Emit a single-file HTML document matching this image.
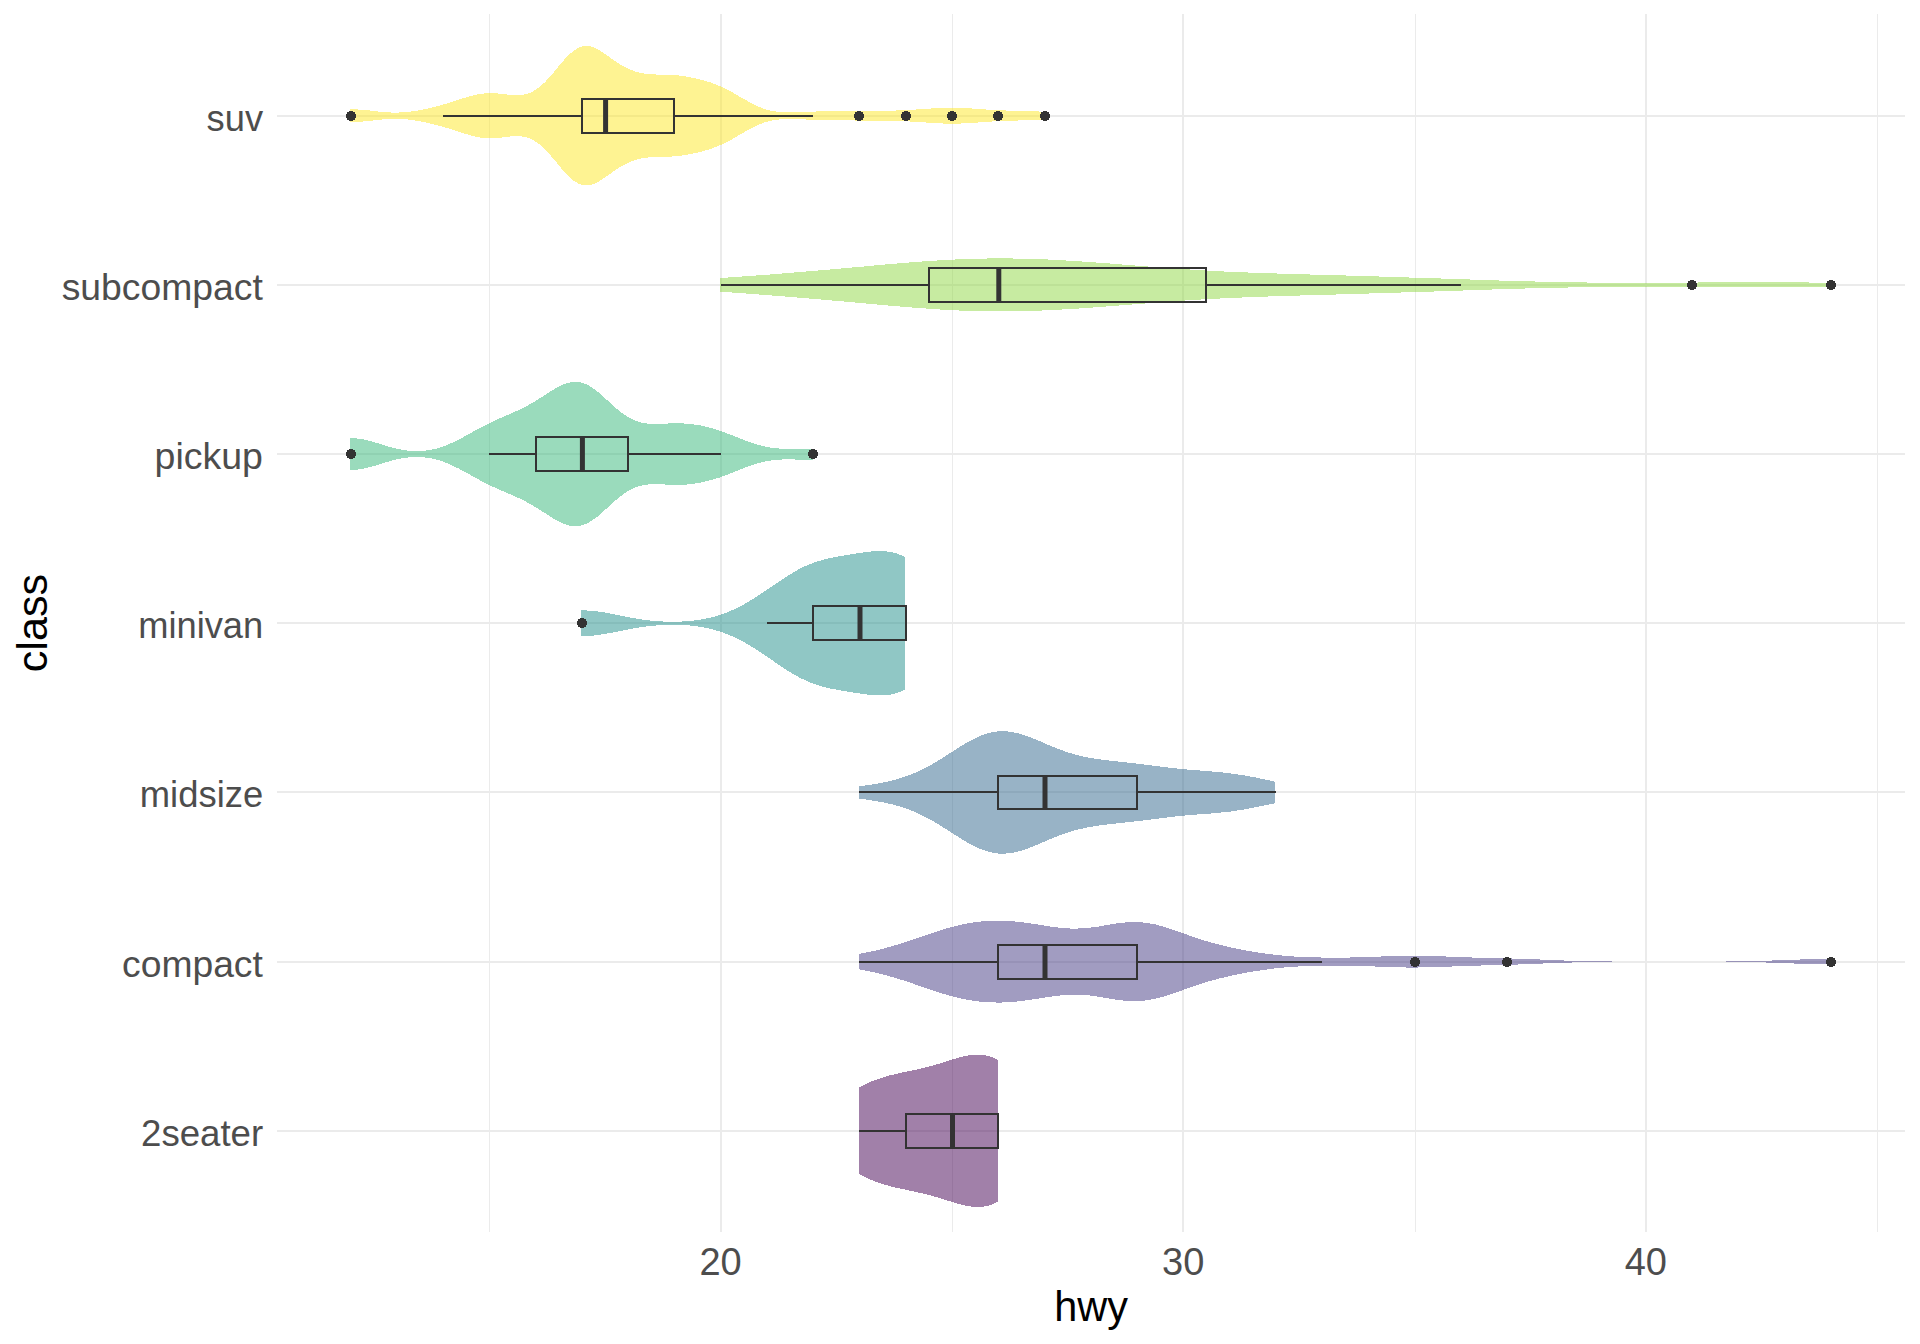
<!DOCTYPE html>
<html><head><meta charset="utf-8"><title>hwy by class</title>
<style>
html,body{margin:0;padding:0;background:#fff;overflow:hidden}
svg{display:block}
.gr{fill:#EBEBEB}
.w{stroke:#333;stroke-width:2;fill:none}
.m{stroke:#333;stroke-width:5;fill:none}
.o{fill:#333}
.t{font-family:"Liberation Sans",Arial,sans-serif;font-size:37.3px;fill:#4D4D4D}
.tt{font-family:"Liberation Sans",Arial,sans-serif;font-size:42px;fill:#000}
</style></head><body>
<svg width="1920" height="1344" viewBox="0 0 1920 1344">
<rect width="1920" height="1344" fill="#fff"/>
<g><rect x="489" y="14" width="1" height="1218" class="gr"/>
<rect x="952" y="14" width="1" height="1218" class="gr"/>
<rect x="1415" y="14" width="1" height="1218" class="gr"/>
<rect x="1877" y="14" width="1" height="1218" class="gr"/>
<rect x="720" y="14" width="2" height="1218" class="gr"/>
<rect x="1182" y="14" width="2" height="1218" class="gr"/>
<rect x="1645" y="14" width="2" height="1218" class="gr"/>
<rect x="277" y="1130" width="1628" height="2" class="gr"/>
<rect x="277" y="961" width="1628" height="2" class="gr"/>
<rect x="277" y="791" width="1628" height="2" class="gr"/>
<rect x="277" y="622" width="1628" height="2" class="gr"/>
<rect x="277" y="453" width="1628" height="2" class="gr"/>
<rect x="277" y="284" width="1628" height="2" class="gr"/>
<rect x="277" y="115" width="1628" height="2" class="gr"/></g>
<g><path d="M859.0,1087.4 L859.8,1087.0 L860.6,1086.5 L861.4,1086.1 L862.2,1085.7 L863.1,1085.3 L863.9,1084.9 L864.7,1084.5 L865.5,1084.1 L866.3,1083.8 L867.1,1083.4 L867.9,1083.0 L868.8,1082.7 L869.6,1082.3 L870.4,1082.0 L871.2,1081.6 L872.0,1081.3 L872.8,1081.0 L873.6,1080.6 L874.5,1080.3 L875.3,1080.0 L876.1,1079.7 L876.9,1079.4 L877.7,1079.1 L878.5,1078.8 L879.3,1078.6 L880.2,1078.3 L881.0,1078.0 L881.8,1077.7 L882.6,1077.5 L883.4,1077.2 L884.2,1077.0 L885.1,1076.7 L885.9,1076.5 L886.7,1076.3 L887.5,1076.0 L888.3,1075.8 L889.1,1075.6 L889.9,1075.4 L890.8,1075.2 L891.6,1075.0 L892.4,1074.8 L893.2,1074.6 L894.0,1074.4 L894.8,1074.2 L895.6,1074.0 L896.5,1073.8 L897.3,1073.6 L898.1,1073.4 L898.9,1073.3 L899.7,1073.1 L900.5,1072.9 L901.3,1072.7 L902.2,1072.5 L903.0,1072.4 L903.8,1072.2 L904.6,1072.0 L905.4,1071.9 L906.2,1071.7 L907.1,1071.5 L907.9,1071.4 L908.7,1071.2 L909.5,1071.0 L910.3,1070.8 L911.1,1070.7 L911.9,1070.5 L912.8,1070.3 L913.6,1070.2 L914.4,1070.0 L915.2,1069.8 L916.0,1069.6 L916.8,1069.5 L917.6,1069.3 L918.5,1069.1 L919.3,1068.9 L920.1,1068.7 L920.9,1068.5 L921.7,1068.3 L922.5,1068.2 L923.3,1068.0 L924.2,1067.8 L925.0,1067.6 L925.8,1067.4 L926.6,1067.2 L927.4,1066.9 L928.2,1066.7 L929.0,1066.5 L929.9,1066.3 L930.7,1066.1 L931.5,1065.9 L932.3,1065.6 L933.1,1065.4 L933.9,1065.2 L934.8,1064.9 L935.6,1064.7 L936.4,1064.5 L937.2,1064.2 L938.0,1064.0 L938.8,1063.7 L939.6,1063.5 L940.5,1063.2 L941.3,1063.0 L942.1,1062.7 L942.9,1062.5 L943.7,1062.2 L944.5,1062.0 L945.3,1061.7 L946.2,1061.5 L947.0,1061.2 L947.8,1060.9 L948.6,1060.7 L949.4,1060.4 L950.2,1060.2 L951.0,1059.9 L951.9,1059.7 L952.7,1059.4 L953.5,1059.2 L954.3,1058.9 L955.1,1058.7 L955.9,1058.4 L956.8,1058.2 L957.6,1058.0 L958.4,1057.7 L959.2,1057.5 L960.0,1057.3 L960.8,1057.1 L961.6,1056.9 L962.5,1056.7 L963.3,1056.5 L964.1,1056.3 L964.9,1056.1 L965.7,1056.0 L966.5,1055.8 L967.3,1055.6 L968.2,1055.5 L969.0,1055.4 L969.8,1055.2 L970.6,1055.1 L971.4,1055.0 L972.2,1054.9 L973.0,1054.8 L973.9,1054.8 L974.7,1054.7 L975.5,1054.7 L976.3,1054.7 L977.1,1054.7 L977.9,1054.7 L978.7,1054.7 L979.6,1054.7 L980.4,1054.7 L981.2,1054.8 L982.0,1054.9 L982.8,1055.0 L983.6,1055.1 L984.5,1055.2 L985.3,1055.4 L986.1,1055.5 L986.9,1055.7 L987.7,1055.9 L988.5,1056.1 L989.3,1056.3 L990.2,1056.6 L991.0,1056.9 L991.8,1057.1 L992.6,1057.4 L993.4,1057.8 L994.2,1058.1 L995.0,1058.5 L995.9,1058.8 L996.7,1059.2 L997.5,1059.6 L997.8,1059.8 L997.8,1201.8 L997.5,1201.9 L996.7,1202.3 L995.9,1202.7 L995.0,1203.1 L994.2,1203.5 L993.4,1203.8 L992.6,1204.1 L991.8,1204.4 L991.0,1204.7 L990.2,1205.0 L989.3,1205.2 L988.5,1205.5 L987.7,1205.7 L986.9,1205.9 L986.1,1206.0 L985.3,1206.2 L984.5,1206.3 L983.6,1206.5 L982.8,1206.6 L982.0,1206.7 L981.2,1206.8 L980.4,1206.8 L979.6,1206.9 L978.7,1206.9 L977.9,1206.9 L977.1,1206.9 L976.3,1206.9 L975.5,1206.9 L974.7,1206.8 L973.9,1206.8 L973.0,1206.7 L972.2,1206.6 L971.4,1206.5 L970.6,1206.4 L969.8,1206.3 L969.0,1206.2 L968.2,1206.1 L967.3,1205.9 L966.5,1205.8 L965.7,1205.6 L964.9,1205.4 L964.1,1205.3 L963.3,1205.1 L962.5,1204.9 L961.6,1204.7 L960.8,1204.5 L960.0,1204.3 L959.2,1204.0 L958.4,1203.8 L957.6,1203.6 L956.8,1203.4 L955.9,1203.1 L955.1,1202.9 L954.3,1202.6 L953.5,1202.4 L952.7,1202.1 L951.9,1201.9 L951.0,1201.6 L950.2,1201.4 L949.4,1201.1 L948.6,1200.9 L947.8,1200.6 L947.0,1200.4 L946.2,1200.1 L945.3,1199.8 L944.5,1199.6 L943.7,1199.3 L942.9,1199.1 L942.1,1198.8 L941.3,1198.6 L940.5,1198.3 L939.6,1198.1 L938.8,1197.8 L938.0,1197.6 L937.2,1197.3 L936.4,1197.1 L935.6,1196.9 L934.8,1196.6 L933.9,1196.4 L933.1,1196.2 L932.3,1195.9 L931.5,1195.7 L930.7,1195.5 L929.9,1195.3 L929.0,1195.0 L928.2,1194.8 L927.4,1194.6 L926.6,1194.4 L925.8,1194.2 L925.0,1194.0 L924.2,1193.8 L923.3,1193.6 L922.5,1193.4 L921.7,1193.2 L920.9,1193.0 L920.1,1192.8 L919.3,1192.6 L918.5,1192.5 L917.6,1192.3 L916.8,1192.1 L916.0,1191.9 L915.2,1191.7 L914.4,1191.6 L913.6,1191.4 L912.8,1191.2 L911.9,1191.1 L911.1,1190.9 L910.3,1190.7 L909.5,1190.5 L908.7,1190.4 L907.9,1190.2 L907.1,1190.0 L906.2,1189.9 L905.4,1189.7 L904.6,1189.5 L903.8,1189.4 L903.0,1189.2 L902.2,1189.0 L901.3,1188.8 L900.5,1188.7 L899.7,1188.5 L898.9,1188.3 L898.1,1188.1 L897.3,1187.9 L896.5,1187.8 L895.6,1187.6 L894.8,1187.4 L894.0,1187.2 L893.2,1187.0 L892.4,1186.8 L891.6,1186.6 L890.8,1186.4 L889.9,1186.2 L889.1,1186.0 L888.3,1185.7 L887.5,1185.5 L886.7,1185.3 L885.9,1185.1 L885.1,1184.8 L884.2,1184.6 L883.4,1184.3 L882.6,1184.1 L881.8,1183.8 L881.0,1183.6 L880.2,1183.3 L879.3,1183.0 L878.5,1182.7 L877.7,1182.4 L876.9,1182.2 L876.1,1181.9 L875.3,1181.6 L874.5,1181.2 L873.6,1180.9 L872.8,1180.6 L872.0,1180.3 L871.2,1179.9 L870.4,1179.6 L869.6,1179.3 L868.8,1178.9 L867.9,1178.5 L867.1,1178.2 L866.3,1177.8 L865.5,1177.4 L864.7,1177.0 L863.9,1176.6 L863.1,1176.2 L862.2,1175.8 L861.4,1175.4 L860.6,1175.0 L859.8,1174.6 L859.0,1174.2Z" fill="#440154" fill-opacity="0.5" shape-rendering="crispEdges"/>
<path d="M859.0,953.9 L864.7,952.8 L870.4,951.7 L876.1,950.4 L881.8,949.0 L887.5,947.5 L893.2,945.9 L898.9,944.2 L904.6,942.4 L910.3,940.5 L916.0,938.5 L921.7,936.6 L927.4,934.6 L933.1,932.7 L938.8,930.8 L944.5,929.0 L950.2,927.4 L955.9,925.9 L961.6,924.6 L967.3,923.4 L973.0,922.5 L978.7,921.7 L984.5,921.2 L990.2,920.8 L995.9,920.7 L1001.6,920.7 L1007.3,920.9 L1013.0,921.3 L1018.7,921.9 L1024.4,922.6 L1030.1,923.4 L1035.8,924.2 L1041.5,925.1 L1047.2,926.0 L1052.9,926.9 L1058.6,927.6 L1064.3,928.1 L1070.0,928.5 L1075.7,928.6 L1081.4,928.4 L1087.1,928.0 L1092.8,927.3 L1098.5,926.5 L1104.2,925.5 L1109.9,924.6 L1115.6,923.6 L1121.3,922.9 L1127.0,922.3 L1132.7,922.0 L1138.4,922.1 L1144.1,922.6 L1149.8,923.4 L1155.6,924.5 L1161.3,926.0 L1167.0,927.7 L1172.7,929.6 L1178.4,931.6 L1184.1,933.6 L1189.8,935.7 L1195.5,937.6 L1201.2,939.5 L1206.9,941.3 L1212.6,942.9 L1218.3,944.4 L1224.0,945.8 L1229.7,947.1 L1235.4,948.4 L1241.1,949.5 L1246.8,950.6 L1252.5,951.6 L1258.2,952.5 L1263.9,953.3 L1269.6,954.1 L1275.3,954.8 L1281.0,955.4 L1286.7,955.9 L1292.4,956.4 L1298.1,956.7 L1303.8,957.0 L1309.5,957.2 L1315.2,957.4 L1320.9,957.5 L1326.6,957.6 L1332.4,957.6 L1338.1,957.6 L1343.8,957.6 L1349.5,957.5 L1355.2,957.4 L1360.9,957.2 L1366.6,957.0 L1372.3,956.8 L1378.0,956.6 L1383.7,956.4 L1389.4,956.2 L1395.1,956.0 L1400.8,955.8 L1406.5,955.7 L1412.2,955.7 L1417.9,955.7 L1423.6,955.8 L1429.3,955.9 L1435.0,956.1 L1440.7,956.3 L1446.4,956.5 L1452.1,956.7 L1457.8,957.0 L1463.5,957.2 L1469.2,957.4 L1474.9,957.6 L1480.6,957.7 L1486.3,957.9 L1492.0,958.0 L1497.7,958.2 L1503.5,958.3 L1509.2,958.4 L1514.9,958.6 L1520.6,958.8 L1526.3,959.0 L1532.0,959.2 L1537.7,959.4 L1543.4,959.7 L1549.1,959.9 L1554.8,960.1 L1560.5,960.4 L1566.2,960.6 L1571.9,960.7 L1577.6,960.9 L1583.3,961.0 L1589.0,961.2 L1594.7,961.3 L1600.4,961.3 L1606.1,961.4 L1611.8,961.5 L1617.5,961.5 L1623.2,961.5 L1628.9,961.6 L1634.6,961.6 L1640.3,961.6 L1646.0,961.6 L1651.7,961.6 L1657.4,961.6 L1663.1,961.6 L1668.8,961.6 L1674.6,961.6 L1680.3,961.6 L1686.0,961.6 L1691.7,961.6 L1697.4,961.6 L1703.1,961.6 L1708.8,961.5 L1714.5,961.5 L1720.2,961.5 L1725.9,961.5 L1731.6,961.4 L1737.3,961.3 L1743.0,961.3 L1748.7,961.2 L1754.4,961.0 L1760.1,960.9 L1765.8,960.7 L1771.5,960.5 L1777.2,960.3 L1782.9,960.1 L1788.6,959.9 L1794.3,959.7 L1800.0,959.5 L1805.7,959.3 L1811.4,959.2 L1817.1,959.0 L1822.8,959.0 L1828.5,958.9 L1830.4,958.9 L1830.4,964.3 L1828.5,964.3 L1822.8,964.2 L1817.1,964.2 L1811.4,964.0 L1805.7,963.9 L1800.0,963.7 L1794.3,963.5 L1788.6,963.3 L1782.9,963.1 L1777.2,962.9 L1771.5,962.7 L1765.8,962.5 L1760.1,962.3 L1754.4,962.2 L1748.7,962.0 L1743.0,961.9 L1737.3,961.9 L1731.6,961.8 L1725.9,961.7 L1720.2,961.7 L1714.5,961.7 L1708.8,961.7 L1703.1,961.6 L1697.4,961.6 L1691.7,961.6 L1686.0,961.6 L1680.3,961.6 L1674.6,961.6 L1668.8,961.6 L1663.1,961.6 L1657.4,961.6 L1651.7,961.6 L1646.0,961.6 L1640.3,961.6 L1634.6,961.6 L1628.9,961.6 L1623.2,961.7 L1617.5,961.7 L1611.8,961.7 L1606.1,961.8 L1600.4,961.9 L1594.7,961.9 L1589.0,962.0 L1583.3,962.2 L1577.6,962.3 L1571.9,962.5 L1566.2,962.6 L1560.5,962.8 L1554.8,963.1 L1549.1,963.3 L1543.4,963.5 L1537.7,963.8 L1532.0,964.0 L1526.3,964.2 L1520.6,964.4 L1514.9,964.6 L1509.2,964.8 L1503.5,964.9 L1497.7,965.0 L1492.0,965.2 L1486.3,965.3 L1480.6,965.5 L1474.9,965.6 L1469.2,965.8 L1463.5,966.0 L1457.8,966.2 L1452.1,966.5 L1446.4,966.7 L1440.7,966.9 L1435.0,967.1 L1429.3,967.3 L1423.6,967.4 L1417.9,967.5 L1412.2,967.5 L1406.5,967.5 L1400.8,967.4 L1395.1,967.2 L1389.4,967.0 L1383.7,966.8 L1378.0,966.6 L1372.3,966.4 L1366.6,966.2 L1360.9,966.0 L1355.2,965.8 L1349.5,965.7 L1343.8,965.6 L1338.1,965.6 L1332.4,965.6 L1326.6,965.6 L1320.9,965.7 L1315.2,965.8 L1309.5,966.0 L1303.8,966.2 L1298.1,966.5 L1292.4,966.8 L1286.7,967.3 L1281.0,967.8 L1275.3,968.4 L1269.6,969.1 L1263.9,969.9 L1258.2,970.7 L1252.5,971.6 L1246.8,972.6 L1241.1,973.7 L1235.4,974.8 L1229.7,976.1 L1224.0,977.4 L1218.3,978.8 L1212.6,980.3 L1206.9,981.9 L1201.2,983.7 L1195.5,985.6 L1189.8,987.5 L1184.1,989.6 L1178.4,991.6 L1172.7,993.6 L1167.0,995.5 L1161.3,997.2 L1155.6,998.7 L1149.8,999.8 L1144.1,1000.6 L1138.4,1001.1 L1132.7,1001.2 L1127.0,1000.9 L1121.3,1000.3 L1115.6,999.6 L1109.9,998.6 L1104.2,997.7 L1098.5,996.7 L1092.8,995.9 L1087.1,995.2 L1081.4,994.8 L1075.7,994.6 L1070.0,994.7 L1064.3,995.1 L1058.6,995.6 L1052.9,996.3 L1047.2,997.2 L1041.5,998.1 L1035.8,999.0 L1030.1,999.8 L1024.4,1000.6 L1018.7,1001.3 L1013.0,1001.9 L1007.3,1002.3 L1001.6,1002.5 L995.9,1002.5 L990.2,1002.4 L984.5,1002.0 L978.7,1001.5 L973.0,1000.7 L967.3,999.8 L961.6,998.6 L955.9,997.3 L950.2,995.8 L944.5,994.2 L938.8,992.4 L933.1,990.5 L927.4,988.6 L921.7,986.6 L916.0,984.7 L910.3,982.7 L904.6,980.8 L898.9,979.0 L893.2,977.3 L887.5,975.7 L881.8,974.2 L876.1,972.8 L870.4,971.5 L864.7,970.4 L859.0,969.3Z" fill="#443A83" fill-opacity="0.5" shape-rendering="crispEdges"/>
<path d="M859.0,786.2 L861.4,785.9 L863.9,785.6 L866.3,785.3 L868.8,784.9 L871.2,784.6 L873.6,784.2 L876.1,783.8 L878.5,783.4 L881.0,782.9 L883.4,782.4 L885.9,781.9 L888.3,781.4 L890.8,780.8 L893.2,780.2 L895.6,779.5 L898.1,778.8 L900.5,778.1 L903.0,777.3 L905.4,776.5 L907.9,775.6 L910.3,774.7 L912.8,773.7 L915.2,772.7 L917.6,771.6 L920.1,770.5 L922.5,769.3 L925.0,768.1 L927.4,766.8 L929.9,765.4 L932.3,764.1 L934.8,762.7 L937.2,761.2 L939.6,759.7 L942.1,758.2 L944.5,756.7 L947.0,755.1 L949.4,753.5 L951.9,752.0 L954.3,750.4 L956.8,748.8 L959.2,747.3 L961.6,745.8 L964.1,744.3 L966.5,742.8 L969.0,741.5 L971.4,740.1 L973.9,738.9 L976.3,737.7 L978.7,736.6 L981.2,735.6 L983.6,734.6 L986.1,733.8 L988.5,733.1 L991.0,732.5 L993.4,732.0 L995.9,731.6 L998.3,731.4 L1000.7,731.2 L1003.2,731.2 L1005.6,731.3 L1008.1,731.5 L1010.5,731.8 L1013.0,732.2 L1015.4,732.7 L1017.9,733.2 L1020.3,733.9 L1022.7,734.6 L1025.2,735.5 L1027.6,736.3 L1030.1,737.2 L1032.5,738.2 L1035.0,739.2 L1037.4,740.2 L1039.9,741.2 L1042.3,742.3 L1044.7,743.3 L1047.2,744.4 L1049.6,745.4 L1052.1,746.4 L1054.5,747.4 L1057.0,748.4 L1059.4,749.4 L1061.9,750.3 L1064.3,751.1 L1066.7,752.0 L1069.2,752.8 L1071.6,753.5 L1074.1,754.2 L1076.5,754.9 L1079.0,755.5 L1081.4,756.1 L1083.9,756.6 L1086.3,757.1 L1088.7,757.6 L1091.2,758.1 L1093.6,758.5 L1096.1,758.8 L1098.5,759.2 L1101.0,759.5 L1103.4,759.9 L1105.9,760.2 L1108.3,760.4 L1110.7,760.7 L1113.2,761.0 L1115.6,761.3 L1118.1,761.5 L1120.5,761.8 L1123.0,762.0 L1125.4,762.3 L1127.8,762.6 L1130.3,762.8 L1132.7,763.1 L1135.2,763.4 L1137.6,763.7 L1140.1,764.0 L1142.5,764.3 L1145.0,764.6 L1147.4,764.9 L1149.8,765.2 L1152.3,765.5 L1154.7,765.9 L1157.2,766.2 L1159.6,766.5 L1162.1,766.8 L1164.5,767.1 L1167.0,767.4 L1169.4,767.7 L1171.8,768.0 L1174.3,768.2 L1176.7,768.5 L1179.2,768.7 L1181.6,769.0 L1184.1,769.2 L1186.5,769.4 L1189.0,769.7 L1191.4,769.9 L1193.8,770.1 L1196.3,770.3 L1198.7,770.4 L1201.2,770.6 L1203.6,770.8 L1206.1,771.0 L1208.5,771.2 L1211.0,771.4 L1213.4,771.6 L1215.8,771.8 L1218.3,772.0 L1220.7,772.3 L1223.2,772.5 L1225.6,772.8 L1228.1,773.1 L1230.5,773.4 L1233.0,773.7 L1235.4,774.0 L1237.8,774.4 L1240.3,774.8 L1242.7,775.2 L1245.2,775.6 L1247.6,776.0 L1250.1,776.5 L1252.5,777.0 L1255.0,777.4 L1257.4,777.9 L1259.8,778.4 L1262.3,778.9 L1264.7,779.5 L1267.2,780.0 L1269.6,780.5 L1272.1,781.0 L1274.5,781.6 L1275.3,781.7 L1275.3,803.1 L1274.5,803.3 L1272.1,803.8 L1269.6,804.3 L1267.2,804.9 L1264.7,805.4 L1262.3,805.9 L1259.8,806.4 L1257.4,806.9 L1255.0,807.4 L1252.5,807.9 L1250.1,808.4 L1247.6,808.8 L1245.2,809.2 L1242.7,809.7 L1240.3,810.1 L1237.8,810.4 L1235.4,810.8 L1233.0,811.1 L1230.5,811.5 L1228.1,811.8 L1225.6,812.1 L1223.2,812.3 L1220.7,812.6 L1218.3,812.8 L1215.8,813.0 L1213.4,813.2 L1211.0,813.5 L1208.5,813.6 L1206.1,813.8 L1203.6,814.0 L1201.2,814.2 L1198.7,814.4 L1196.3,814.6 L1193.8,814.8 L1191.4,815.0 L1189.0,815.2 L1186.5,815.4 L1184.1,815.6 L1181.6,815.9 L1179.2,816.1 L1176.7,816.3 L1174.3,816.6 L1171.8,816.9 L1169.4,817.2 L1167.0,817.5 L1164.5,817.8 L1162.1,818.1 L1159.6,818.4 L1157.2,818.7 L1154.7,819.0 L1152.3,819.3 L1149.8,819.6 L1147.4,819.9 L1145.0,820.2 L1142.5,820.5 L1140.1,820.8 L1137.6,821.1 L1135.2,821.4 L1132.7,821.7 L1130.3,822.0 L1127.8,822.3 L1125.4,822.5 L1123.0,822.8 L1120.5,823.1 L1118.1,823.3 L1115.6,823.6 L1113.2,823.8 L1110.7,824.1 L1108.3,824.4 L1105.9,824.7 L1103.4,825.0 L1101.0,825.3 L1098.5,825.6 L1096.1,826.0 L1093.6,826.4 L1091.2,826.8 L1088.7,827.2 L1086.3,827.7 L1083.9,828.2 L1081.4,828.8 L1079.0,829.3 L1076.5,830.0 L1074.1,830.6 L1071.6,831.3 L1069.2,832.1 L1066.7,832.9 L1064.3,833.7 L1061.9,834.6 L1059.4,835.5 L1057.0,836.4 L1054.5,837.4 L1052.1,838.4 L1049.6,839.4 L1047.2,840.5 L1044.7,841.5 L1042.3,842.5 L1039.9,843.6 L1037.4,844.6 L1035.0,845.7 L1032.5,846.6 L1030.1,847.6 L1027.6,848.5 L1025.2,849.4 L1022.7,850.2 L1020.3,850.9 L1017.9,851.6 L1015.4,852.2 L1013.0,852.7 L1010.5,853.1 L1008.1,853.4 L1005.6,853.5 L1003.2,853.6 L1000.7,853.6 L998.3,853.5 L995.9,853.2 L993.4,852.8 L991.0,852.3 L988.5,851.7 L986.1,851.0 L983.6,850.2 L981.2,849.3 L978.7,848.3 L976.3,847.2 L973.9,846.0 L971.4,844.7 L969.0,843.4 L966.5,842.0 L964.1,840.6 L961.6,839.1 L959.2,837.6 L956.8,836.0 L954.3,834.4 L951.9,832.9 L949.4,831.3 L947.0,829.7 L944.5,828.2 L942.1,826.6 L939.6,825.1 L937.2,823.6 L934.8,822.2 L932.3,820.8 L929.9,819.4 L927.4,818.1 L925.0,816.8 L922.5,815.6 L920.1,814.4 L917.6,813.2 L915.2,812.2 L912.8,811.1 L910.3,810.2 L907.9,809.2 L905.4,808.3 L903.0,807.5 L900.5,806.7 L898.1,806.0 L895.6,805.3 L893.2,804.7 L890.8,804.0 L888.3,803.5 L885.9,802.9 L883.4,802.4 L881.0,801.9 L878.5,801.5 L876.1,801.1 L873.6,800.7 L871.2,800.3 L868.8,799.9 L866.3,799.6 L863.9,799.2 L861.4,798.9 L859.0,798.6Z" fill="#31688E" fill-opacity="0.5" shape-rendering="crispEdges"/>
<path d="M581.4,610.4 L583.3,610.4 L585.2,610.4 L587.1,610.5 L589.0,610.6 L590.9,610.8 L592.8,610.9 L594.7,611.1 L596.6,611.3 L598.5,611.6 L600.4,611.9 L602.3,612.1 L604.2,612.4 L606.1,612.8 L608.0,613.1 L609.9,613.5 L611.8,613.8 L613.7,614.2 L615.6,614.6 L617.5,615.0 L619.4,615.3 L621.3,615.7 L623.2,616.1 L625.1,616.5 L627.0,616.9 L628.9,617.2 L630.8,617.6 L632.7,617.9 L634.7,618.3 L636.6,618.6 L638.5,618.9 L640.4,619.2 L642.3,619.5 L644.2,619.8 L646.1,620.0 L648.0,620.2 L649.9,620.5 L651.8,620.7 L653.7,620.9 L655.6,621.0 L657.5,621.2 L659.4,621.3 L661.3,621.4 L663.2,621.5 L665.1,621.6 L667.0,621.7 L668.9,621.7 L670.8,621.7 L672.7,621.8 L674.6,621.8 L676.5,621.7 L678.4,621.7 L680.3,621.6 L682.2,621.5 L684.1,621.4 L686.0,621.3 L687.9,621.2 L689.8,621.0 L691.7,620.8 L693.6,620.6 L695.5,620.4 L697.4,620.1 L699.3,619.8 L701.2,619.5 L703.1,619.2 L705.0,618.8 L706.9,618.4 L708.8,618.0 L710.7,617.5 L712.6,617.1 L714.5,616.5 L716.4,616.0 L718.3,615.4 L720.2,614.8 L722.1,614.2 L724.0,613.5 L725.9,612.8 L727.8,612.0 L729.7,611.2 L731.6,610.4 L733.5,609.6 L735.4,608.7 L737.3,607.8 L739.2,606.8 L741.1,605.8 L743.0,604.8 L744.9,603.8 L746.8,602.7 L748.7,601.6 L750.6,600.4 L752.5,599.3 L754.4,598.1 L756.3,596.9 L758.2,595.7 L760.1,594.4 L762.0,593.1 L763.9,591.9 L765.8,590.6 L767.7,589.3 L769.6,588.0 L771.5,586.7 L773.4,585.4 L775.3,584.1 L777.2,582.8 L779.1,581.5 L781.0,580.2 L782.9,578.9 L784.8,577.7 L786.7,576.5 L788.6,575.3 L790.5,574.1 L792.4,573.0 L794.3,571.8 L796.2,570.8 L798.1,569.7 L800.0,568.7 L801.9,567.8 L803.8,566.8 L805.7,565.9 L807.7,565.1 L809.6,564.3 L811.5,563.6 L813.4,562.8 L815.3,562.2 L817.2,561.5 L819.1,560.9 L821.0,560.4 L822.9,559.8 L824.8,559.3 L826.7,558.9 L828.6,558.4 L830.5,558.0 L832.4,557.6 L834.3,557.2 L836.2,556.9 L838.1,556.5 L840.0,556.2 L841.9,555.8 L843.8,555.5 L845.7,555.2 L847.6,554.9 L849.5,554.6 L851.4,554.3 L853.3,554.0 L855.2,553.7 L857.1,553.4 L859.0,553.1 L860.9,552.8 L862.8,552.5 L864.7,552.3 L866.6,552.0 L868.5,551.8 L870.4,551.6 L872.3,551.4 L874.2,551.3 L876.1,551.2 L878.0,551.1 L879.9,551.1 L881.8,551.1 L883.7,551.2 L885.6,551.3 L887.5,551.5 L889.4,551.8 L891.3,552.1 L893.2,552.5 L895.1,553.0 L897.0,553.6 L898.9,554.3 L900.8,555.0 L902.7,555.9 L904.6,556.8 L905.2,557.1 L905.2,689.3 L904.6,689.7 L902.7,690.6 L900.8,691.4 L898.9,692.2 L897.0,692.9 L895.1,693.4 L893.2,693.9 L891.3,694.4 L889.4,694.7 L887.5,695.0 L885.6,695.2 L883.7,695.3 L881.8,695.4 L879.9,695.4 L878.0,695.4 L876.1,695.3 L874.2,695.2 L872.3,695.1 L870.4,694.9 L868.5,694.7 L866.6,694.4 L864.7,694.2 L862.8,693.9 L860.9,693.7 L859.0,693.4 L857.1,693.1 L855.2,692.8 L853.3,692.5 L851.4,692.2 L849.5,691.9 L847.6,691.6 L845.7,691.3 L843.8,691.0 L841.9,690.6 L840.0,690.3 L838.1,690.0 L836.2,689.6 L834.3,689.3 L832.4,688.9 L830.5,688.5 L828.6,688.1 L826.7,687.6 L824.8,687.2 L822.9,686.7 L821.0,686.1 L819.1,685.6 L817.2,685.0 L815.3,684.3 L813.4,683.6 L811.5,682.9 L809.6,682.2 L807.7,681.4 L805.7,680.5 L803.8,679.6 L801.9,678.7 L800.0,677.8 L798.1,676.8 L796.2,675.7 L794.3,674.6 L792.4,673.5 L790.5,672.4 L788.6,671.2 L786.7,670.0 L784.8,668.8 L782.9,667.5 L781.0,666.3 L779.1,665.0 L777.2,663.7 L775.3,662.4 L773.4,661.1 L771.5,659.8 L769.6,658.5 L767.7,657.2 L765.8,655.9 L763.9,654.6 L762.0,653.3 L760.1,652.1 L758.2,650.8 L756.3,649.6 L754.4,648.4 L752.5,647.2 L750.6,646.0 L748.7,644.9 L746.8,643.8 L744.9,642.7 L743.0,641.7 L741.1,640.7 L739.2,639.7 L737.3,638.7 L735.4,637.8 L733.5,636.9 L731.6,636.1 L729.7,635.2 L727.8,634.5 L725.9,633.7 L724.0,633.0 L722.1,632.3 L720.2,631.7 L718.3,631.1 L716.4,630.5 L714.5,629.9 L712.6,629.4 L710.7,628.9 L708.8,628.5 L706.9,628.1 L705.0,627.7 L703.1,627.3 L701.2,627.0 L699.3,626.7 L697.4,626.4 L695.5,626.1 L693.6,625.9 L691.7,625.7 L689.8,625.5 L687.9,625.3 L686.0,625.2 L684.1,625.0 L682.2,624.9 L680.3,624.9 L678.4,624.8 L676.5,624.8 L674.6,624.7 L672.7,624.7 L670.8,624.7 L668.9,624.8 L667.0,624.8 L665.1,624.9 L663.2,625.0 L661.3,625.1 L659.4,625.2 L657.5,625.3 L655.6,625.5 L653.7,625.6 L651.8,625.8 L649.9,626.0 L648.0,626.2 L646.1,626.5 L644.2,626.7 L642.3,627.0 L640.4,627.3 L638.5,627.6 L636.6,627.9 L634.7,628.2 L632.7,628.6 L630.8,628.9 L628.9,629.3 L627.0,629.6 L625.1,630.0 L623.2,630.4 L621.3,630.8 L619.4,631.1 L617.5,631.5 L615.6,631.9 L613.7,632.3 L611.8,632.7 L609.9,633.0 L608.0,633.4 L606.1,633.7 L604.2,634.0 L602.3,634.3 L600.4,634.6 L598.5,634.9 L596.6,635.1 L594.7,635.4 L592.8,635.6 L590.9,635.7 L589.0,635.9 L587.1,636.0 L585.2,636.0 L583.3,636.1 L581.4,636.1Z" fill="#21908C" fill-opacity="0.5" shape-rendering="crispEdges"/>
<path d="M350.1,438.0 L352.8,438.1 L355.6,438.3 L358.3,438.6 L361.0,439.0 L363.7,439.5 L366.4,440.1 L369.1,440.8 L371.8,441.5 L374.6,442.3 L377.3,443.1 L380.0,444.0 L382.7,444.8 L385.4,445.6 L388.1,446.4 L390.9,447.2 L393.6,447.9 L396.3,448.6 L399.0,449.2 L401.7,449.7 L404.4,450.1 L407.2,450.5 L409.9,450.8 L412.6,451.0 L415.3,451.1 L418.0,451.1 L420.7,451.0 L423.4,450.8 L426.2,450.5 L428.9,450.1 L431.6,449.7 L434.3,449.1 L437.0,448.4 L439.7,447.6 L442.5,446.7 L445.2,445.7 L447.9,444.6 L450.6,443.4 L453.3,442.2 L456.0,440.9 L458.8,439.5 L461.5,438.1 L464.2,436.6 L466.9,435.1 L469.6,433.6 L472.3,432.1 L475.0,430.6 L477.8,429.1 L480.5,427.6 L483.2,426.2 L485.9,424.8 L488.6,423.5 L491.3,422.2 L494.1,420.9 L496.8,419.7 L499.5,418.5 L502.2,417.3 L504.9,416.1 L507.6,414.9 L510.4,413.8 L513.1,412.6 L515.8,411.3 L518.5,410.1 L521.2,408.8 L523.9,407.4 L526.7,406.0 L529.4,404.5 L532.1,403.0 L534.8,401.4 L537.5,399.7 L540.2,398.0 L542.9,396.3 L545.7,394.5 L548.4,392.8 L551.1,391.1 L553.8,389.4 L556.5,387.9 L559.2,386.4 L562.0,385.1 L564.7,384.0 L567.4,383.1 L570.1,382.4 L572.8,382.0 L575.5,381.9 L578.3,382.1 L581.0,382.5 L583.7,383.3 L586.4,384.4 L589.1,385.8 L591.8,387.4 L594.5,389.3 L597.3,391.4 L600.0,393.7 L602.7,396.0 L605.4,398.5 L608.1,401.0 L610.8,403.5 L613.6,406.0 L616.3,408.4 L619.0,410.6 L621.7,412.7 L624.4,414.7 L627.1,416.5 L629.9,418.1 L632.6,419.4 L635.3,420.6 L638.0,421.6 L640.7,422.4 L643.4,423.0 L646.1,423.4 L648.9,423.7 L651.6,423.9 L654.3,424.0 L657.0,423.9 L659.7,423.9 L662.4,423.8 L665.2,423.7 L667.9,423.5 L670.6,423.4 L673.3,423.3 L676.0,423.3 L678.7,423.3 L681.5,423.4 L684.2,423.5 L686.9,423.7 L689.6,423.9 L692.3,424.2 L695.0,424.6 L697.7,425.0 L700.5,425.5 L703.2,426.1 L705.9,426.7 L708.6,427.4 L711.3,428.1 L714.0,428.9 L716.8,429.8 L719.5,430.6 L722.2,431.6 L724.9,432.6 L727.6,433.6 L730.3,434.7 L733.1,435.7 L735.8,436.8 L738.5,437.9 L741.2,439.0 L743.9,440.0 L746.6,441.1 L749.4,442.1 L752.1,443.0 L754.8,443.9 L757.5,444.7 L760.2,445.4 L762.9,446.1 L765.6,446.7 L768.4,447.2 L771.1,447.6 L773.8,448.0 L776.5,448.2 L779.2,448.5 L781.9,448.6 L784.7,448.7 L787.4,448.7 L790.1,448.7 L792.8,448.7 L795.5,448.7 L798.2,448.6 L801.0,448.6 L803.7,448.5 L806.4,448.5 L809.1,448.5 L811.8,448.5 L812.7,448.5 L812.7,459.6 L811.8,459.6 L809.1,459.6 L806.4,459.6 L803.7,459.6 L801.0,459.6 L798.2,459.5 L795.5,459.5 L792.8,459.4 L790.1,459.4 L787.4,459.4 L784.7,459.4 L781.9,459.5 L779.2,459.7 L776.5,459.9 L773.8,460.1 L771.1,460.5 L768.4,460.9 L765.6,461.4 L762.9,462.0 L760.2,462.7 L757.5,463.4 L754.8,464.2 L752.1,465.1 L749.4,466.1 L746.6,467.1 L743.9,468.1 L741.2,469.1 L738.5,470.2 L735.8,471.3 L733.1,472.4 L730.3,473.5 L727.6,474.5 L724.9,475.5 L722.2,476.5 L719.5,477.5 L716.8,478.4 L714.0,479.2 L711.3,480.0 L708.6,480.7 L705.9,481.4 L703.2,482.0 L700.5,482.6 L697.7,483.1 L695.0,483.5 L692.3,483.9 L689.6,484.2 L686.9,484.5 L684.2,484.6 L681.5,484.8 L678.7,484.8 L676.0,484.8 L673.3,484.8 L670.6,484.7 L667.9,484.6 L665.2,484.5 L662.4,484.3 L659.7,484.2 L657.0,484.2 L654.3,484.2 L651.6,484.2 L648.9,484.4 L646.1,484.7 L643.4,485.2 L640.7,485.8 L638.0,486.6 L635.3,487.5 L632.6,488.7 L629.9,490.1 L627.1,491.6 L624.4,493.4 L621.7,495.4 L619.0,497.5 L616.3,499.8 L613.6,502.1 L610.8,504.6 L608.1,507.1 L605.4,509.6 L602.7,512.1 L600.0,514.5 L597.3,516.7 L594.5,518.8 L591.8,520.7 L589.1,522.3 L586.4,523.7 L583.7,524.8 L581.0,525.6 L578.3,526.1 L575.5,526.2 L572.8,526.1 L570.1,525.7 L567.4,525.0 L564.7,524.1 L562.0,523.0 L559.2,521.7 L556.5,520.2 L553.8,518.7 L551.1,517.0 L548.4,515.3 L545.7,513.6 L542.9,511.8 L540.2,510.1 L537.5,508.4 L534.8,506.8 L532.1,505.2 L529.4,503.6 L526.7,502.1 L523.9,500.7 L521.2,499.3 L518.5,498.0 L515.8,496.8 L513.1,495.6 L510.4,494.4 L507.6,493.2 L504.9,492.0 L502.2,490.8 L499.5,489.7 L496.8,488.5 L494.1,487.2 L491.3,486.0 L488.6,484.7 L485.9,483.3 L483.2,481.9 L480.5,480.5 L477.8,479.0 L475.0,477.6 L472.3,476.1 L469.6,474.5 L466.9,473.0 L464.2,471.5 L461.5,470.1 L458.8,468.6 L456.0,467.3 L453.3,465.9 L450.6,464.7 L447.9,463.5 L445.2,462.4 L442.5,461.4 L439.7,460.5 L437.0,459.7 L434.3,459.1 L431.6,458.5 L428.9,458.0 L426.2,457.6 L423.4,457.3 L420.7,457.1 L418.0,457.0 L415.3,457.0 L412.6,457.1 L409.9,457.3 L407.2,457.6 L404.4,458.0 L401.7,458.4 L399.0,458.9 L396.3,459.5 L393.6,460.2 L390.9,460.9 L388.1,461.7 L385.4,462.5 L382.7,463.3 L380.0,464.1 L377.3,465.0 L374.6,465.8 L371.8,466.6 L369.1,467.3 L366.4,468.0 L363.7,468.6 L361.0,469.1 L358.3,469.5 L355.6,469.8 L352.8,470.0 L350.1,470.1Z" fill="#35B779" fill-opacity="0.5" shape-rendering="crispEdges"/>
<path d="M720.2,278.0 L726.7,277.6 L733.2,277.1 L739.8,276.7 L746.3,276.2 L752.8,275.7 L759.3,275.3 L765.8,274.8 L772.3,274.3 L778.9,273.8 L785.4,273.2 L791.9,272.7 L798.4,272.2 L804.9,271.6 L811.5,271.1 L818.0,270.5 L824.5,270.0 L831.0,269.4 L837.5,268.8 L844.0,268.2 L850.6,267.6 L857.1,267.1 L863.6,266.5 L870.1,265.9 L876.6,265.3 L883.2,264.7 L889.7,264.1 L896.2,263.6 L902.7,263.0 L909.2,262.5 L915.7,262.0 L922.3,261.5 L928.8,261.0 L935.3,260.6 L941.8,260.2 L948.3,259.8 L954.8,259.5 L961.4,259.2 L967.9,258.9 L974.4,258.7 L980.9,258.6 L987.4,258.5 L994.0,258.4 L1000.5,258.4 L1007.0,258.4 L1013.5,258.5 L1020.0,258.6 L1026.5,258.7 L1033.1,258.9 L1039.6,259.2 L1046.1,259.4 L1052.6,259.7 L1059.1,260.1 L1065.7,260.5 L1072.2,260.9 L1078.7,261.3 L1085.2,261.7 L1091.7,262.2 L1098.2,262.7 L1104.8,263.1 L1111.3,263.6 L1117.8,264.2 L1124.3,264.7 L1130.8,265.2 L1137.4,265.7 L1143.9,266.2 L1150.4,266.7 L1156.9,267.2 L1163.4,267.7 L1169.9,268.2 L1176.5,268.6 L1183.0,269.1 L1189.5,269.5 L1196.0,269.9 L1202.5,270.3 L1209.1,270.7 L1215.6,271.0 L1222.1,271.4 L1228.6,271.7 L1235.1,272.0 L1241.6,272.3 L1248.2,272.5 L1254.7,272.8 L1261.2,273.0 L1267.7,273.2 L1274.2,273.4 L1280.8,273.7 L1287.3,273.9 L1293.8,274.0 L1300.3,274.2 L1306.8,274.4 L1313.3,274.6 L1319.9,274.8 L1326.4,275.0 L1332.9,275.2 L1339.4,275.3 L1345.9,275.5 L1352.5,275.7 L1359.0,275.9 L1365.5,276.1 L1372.0,276.3 L1378.5,276.5 L1385.0,276.7 L1391.6,276.9 L1398.1,277.1 L1404.6,277.3 L1411.1,277.6 L1417.6,277.8 L1424.1,278.0 L1430.7,278.2 L1437.2,278.4 L1443.7,278.6 L1450.2,278.8 L1456.7,279.1 L1463.3,279.3 L1469.8,279.5 L1476.3,279.7 L1482.8,279.9 L1489.3,280.1 L1495.8,280.4 L1502.4,280.6 L1508.9,280.8 L1515.4,281.0 L1521.9,281.2 L1528.4,281.3 L1535.0,281.5 L1541.5,281.7 L1548.0,281.8 L1554.5,282.0 L1561.0,282.1 L1567.5,282.2 L1574.1,282.3 L1580.6,282.4 L1587.1,282.5 L1593.6,282.6 L1600.1,282.6 L1606.7,282.7 L1613.2,282.7 L1619.7,282.7 L1626.2,282.7 L1632.7,282.7 L1639.2,282.7 L1645.8,282.7 L1652.3,282.7 L1658.8,282.7 L1665.3,282.6 L1671.8,282.6 L1678.4,282.6 L1684.9,282.5 L1691.4,282.5 L1697.9,282.5 L1704.4,282.4 L1710.9,282.4 L1717.5,282.4 L1724.0,282.4 L1730.5,282.3 L1737.0,282.3 L1743.5,282.3 L1750.1,282.3 L1756.6,282.3 L1763.1,282.3 L1769.6,282.3 L1776.1,282.3 L1782.6,282.4 L1789.2,282.4 L1795.7,282.4 L1802.2,282.4 L1808.7,282.5 L1815.2,282.5 L1821.7,282.6 L1828.3,282.6 L1830.4,282.6 L1830.4,287.1 L1828.3,287.1 L1821.7,287.2 L1815.2,287.2 L1808.7,287.3 L1802.2,287.3 L1795.7,287.4 L1789.2,287.4 L1782.6,287.4 L1776.1,287.4 L1769.6,287.4 L1763.1,287.4 L1756.6,287.4 L1750.1,287.4 L1743.5,287.4 L1737.0,287.4 L1730.5,287.4 L1724.0,287.4 L1717.5,287.4 L1710.9,287.3 L1704.4,287.3 L1697.9,287.3 L1691.4,287.3 L1684.9,287.2 L1678.4,287.2 L1671.8,287.2 L1665.3,287.1 L1658.8,287.1 L1652.3,287.1 L1645.8,287.1 L1639.2,287.0 L1632.7,287.0 L1626.2,287.0 L1619.7,287.0 L1613.2,287.1 L1606.7,287.1 L1600.1,287.1 L1593.6,287.2 L1587.1,287.3 L1580.6,287.3 L1574.1,287.4 L1567.5,287.5 L1561.0,287.7 L1554.5,287.8 L1548.0,287.9 L1541.5,288.1 L1535.0,288.2 L1528.4,288.4 L1521.9,288.6 L1515.4,288.8 L1508.9,289.0 L1502.4,289.2 L1495.8,289.4 L1489.3,289.6 L1482.8,289.8 L1476.3,290.1 L1469.8,290.3 L1463.3,290.5 L1456.7,290.7 L1450.2,290.9 L1443.7,291.1 L1437.2,291.4 L1430.7,291.6 L1424.1,291.8 L1417.6,292.0 L1411.1,292.2 L1404.6,292.4 L1398.1,292.6 L1391.6,292.8 L1385.0,293.0 L1378.5,293.2 L1372.0,293.4 L1365.5,293.6 L1359.0,293.8 L1352.5,294.0 L1345.9,294.2 L1339.4,294.4 L1332.9,294.6 L1326.4,294.8 L1319.9,295.0 L1313.3,295.2 L1306.8,295.3 L1300.3,295.5 L1293.8,295.7 L1287.3,295.9 L1280.8,296.1 L1274.2,296.3 L1267.7,296.5 L1261.2,296.7 L1254.7,297.0 L1248.2,297.2 L1241.6,297.5 L1235.1,297.8 L1228.6,298.1 L1222.1,298.4 L1215.6,298.7 L1209.1,299.1 L1202.5,299.4 L1196.0,299.8 L1189.5,300.2 L1183.0,300.7 L1176.5,301.1 L1169.9,301.6 L1163.4,302.1 L1156.9,302.5 L1150.4,303.0 L1143.9,303.6 L1137.4,304.1 L1130.8,304.6 L1124.3,305.1 L1117.8,305.6 L1111.3,306.1 L1104.8,306.6 L1098.2,307.1 L1091.7,307.6 L1085.2,308.0 L1078.7,308.5 L1072.2,308.9 L1065.7,309.3 L1059.1,309.7 L1052.6,310.0 L1046.1,310.3 L1039.6,310.6 L1033.1,310.8 L1026.5,311.0 L1020.0,311.2 L1013.5,311.3 L1007.0,311.4 L1000.5,311.4 L994.0,311.4 L987.4,311.3 L980.9,311.2 L974.4,311.0 L967.9,310.8 L961.4,310.6 L954.8,310.3 L948.3,309.9 L941.8,309.6 L935.3,309.2 L928.8,308.7 L922.3,308.3 L915.7,307.8 L909.2,307.3 L902.7,306.7 L896.2,306.2 L889.7,305.6 L883.2,305.1 L876.6,304.5 L870.1,303.9 L863.6,303.3 L857.1,302.7 L850.6,302.1 L844.0,301.5 L837.5,301.0 L831.0,300.4 L824.5,299.8 L818.0,299.2 L811.5,298.7 L804.9,298.1 L798.4,297.6 L791.9,297.1 L785.4,296.5 L778.9,296.0 L772.3,295.5 L765.8,295.0 L759.3,294.5 L752.8,294.0 L746.3,293.5 L739.8,293.1 L733.2,292.6 L726.7,292.2 L720.2,291.7Z" fill="#8FD744" fill-opacity="0.5" shape-rendering="crispEdges"/>
<path d="M350.1,109.2 L354.2,109.3 L358.3,109.5 L362.3,109.8 L366.4,110.2 L370.5,110.6 L374.6,111.1 L378.6,111.6 L382.7,112.0 L386.8,112.3 L390.9,112.5 L394.9,112.6 L399.0,112.5 L403.1,112.4 L407.2,112.0 L411.2,111.5 L415.3,110.9 L419.4,110.2 L423.4,109.4 L427.5,108.5 L431.6,107.6 L435.7,106.5 L439.7,105.5 L443.8,104.3 L447.9,103.1 L452.0,101.8 L456.0,100.5 L460.1,99.2 L464.2,97.9 L468.3,96.7 L472.3,95.6 L476.4,94.6 L480.5,93.9 L484.6,93.4 L488.6,93.1 L492.7,93.1 L496.8,93.4 L500.8,93.8 L504.9,94.3 L509.0,94.8 L513.1,95.2 L517.1,95.3 L521.2,95.1 L525.3,94.3 L529.4,93.1 L533.4,91.1 L537.5,88.5 L541.6,85.3 L545.7,81.4 L549.7,77.0 L553.8,72.2 L557.9,67.2 L562.0,62.3 L566.0,57.7 L570.1,53.7 L574.2,50.3 L578.3,47.9 L582.3,46.4 L586.4,46.0 L590.5,46.5 L594.5,47.8 L598.6,49.9 L602.7,52.4 L606.8,55.2 L610.8,58.1 L614.9,61.0 L619.0,63.7 L623.1,66.1 L627.1,68.2 L631.2,70.0 L635.3,71.5 L639.4,72.6 L643.4,73.4 L647.5,73.9 L651.6,74.3 L655.7,74.5 L659.7,74.6 L663.8,74.7 L667.9,74.8 L671.9,74.9 L676.0,75.2 L680.1,75.7 L684.2,76.2 L688.2,76.9 L692.3,77.7 L696.4,78.6 L700.5,79.6 L704.5,80.7 L708.6,81.9 L712.7,83.2 L716.8,84.8 L720.8,86.5 L724.9,88.4 L729.0,90.5 L733.1,92.7 L737.1,95.1 L741.2,97.5 L745.3,99.8 L749.4,102.1 L753.4,104.3 L757.5,106.2 L761.6,107.9 L765.6,109.3 L769.7,110.4 L773.8,111.2 L777.9,111.8 L781.9,112.2 L786.0,112.4 L790.1,112.4 L794.2,112.4 L798.2,112.3 L802.3,112.1 L806.4,111.9 L810.5,111.7 L814.5,111.6 L818.6,111.4 L822.7,111.3 L826.8,111.2 L830.8,111.1 L834.9,111.1 L839.0,111.0 L843.0,111.0 L847.1,111.0 L851.2,111.0 L855.3,110.9 L859.3,110.9 L863.4,110.9 L867.5,110.9 L871.6,110.9 L875.6,110.9 L879.7,110.9 L883.8,110.8 L887.9,110.7 L891.9,110.7 L896.0,110.5 L900.1,110.4 L904.2,110.2 L908.2,110.0 L912.3,109.8 L916.4,109.5 L920.4,109.3 L924.5,109.0 L928.6,108.7 L932.7,108.4 L936.7,108.2 L940.8,108.0 L944.9,107.8 L949.0,107.7 L953.0,107.7 L957.1,107.8 L961.2,107.9 L965.3,108.1 L969.3,108.3 L973.4,108.6 L977.5,108.9 L981.6,109.2 L985.6,109.5 L989.7,109.7 L993.8,110.0 L997.9,110.2 L1001.9,110.4 L1006.0,110.5 L1010.1,110.7 L1014.1,110.8 L1018.2,110.9 L1022.3,111.0 L1026.4,111.1 L1030.4,111.2 L1034.5,111.3 L1038.6,111.5 L1042.7,111.6 L1044.0,111.7 L1044.0,119.7 L1042.7,119.8 L1038.6,119.9 L1034.5,120.1 L1030.4,120.2 L1026.4,120.3 L1022.3,120.4 L1018.2,120.5 L1014.1,120.6 L1010.1,120.7 L1006.0,120.9 L1001.9,121.0 L997.9,121.2 L993.8,121.4 L989.7,121.7 L985.6,121.9 L981.6,122.2 L977.5,122.5 L973.4,122.8 L969.3,123.1 L965.3,123.3 L961.2,123.5 L957.1,123.6 L953.0,123.7 L949.0,123.7 L944.9,123.6 L940.8,123.4 L936.7,123.2 L932.7,123.0 L928.6,122.7 L924.5,122.4 L920.4,122.1 L916.4,121.9 L912.3,121.6 L908.2,121.4 L904.2,121.2 L900.1,121.0 L896.0,120.9 L891.9,120.7 L887.9,120.7 L883.8,120.6 L879.7,120.5 L875.6,120.5 L871.6,120.5 L867.5,120.5 L863.4,120.5 L859.3,120.5 L855.3,120.5 L851.2,120.4 L847.1,120.4 L843.0,120.4 L839.0,120.4 L834.9,120.3 L830.8,120.3 L826.8,120.2 L822.7,120.1 L818.6,120.0 L814.5,119.8 L810.5,119.7 L806.4,119.5 L802.3,119.3 L798.2,119.1 L794.2,119.0 L790.1,119.0 L786.0,119.0 L781.9,119.2 L777.9,119.6 L773.8,120.2 L769.7,121.0 L765.6,122.1 L761.6,123.5 L757.5,125.2 L753.4,127.1 L749.4,129.3 L745.3,131.6 L741.2,133.9 L737.1,136.3 L733.1,138.7 L729.0,140.9 L724.9,143.0 L720.8,144.9 L716.8,146.6 L712.7,148.2 L708.6,149.5 L704.5,150.7 L700.5,151.8 L696.4,152.8 L692.3,153.7 L688.2,154.5 L684.2,155.2 L680.1,155.7 L676.0,156.2 L671.9,156.5 L667.9,156.6 L663.8,156.7 L659.7,156.8 L655.7,156.9 L651.6,157.1 L647.5,157.5 L643.4,158.0 L639.4,158.8 L635.3,159.9 L631.2,161.4 L627.1,163.2 L623.1,165.3 L619.0,167.7 L614.9,170.4 L610.8,173.3 L606.8,176.2 L602.7,179.0 L598.6,181.5 L594.5,183.6 L590.5,184.9 L586.4,185.4 L582.3,185.0 L578.3,183.5 L574.2,181.1 L570.1,177.7 L566.0,173.7 L562.0,169.1 L557.9,164.2 L553.8,159.2 L549.7,154.4 L545.7,150.0 L541.6,146.1 L537.5,142.9 L533.4,140.3 L529.4,138.3 L525.3,137.1 L521.2,136.3 L517.1,136.1 L513.1,136.2 L509.0,136.6 L504.9,137.1 L500.8,137.6 L496.8,138.0 L492.7,138.3 L488.6,138.3 L484.6,138.0 L480.5,137.5 L476.4,136.8 L472.3,135.8 L468.3,134.7 L464.2,133.5 L460.1,132.2 L456.0,130.9 L452.0,129.6 L447.9,128.3 L443.8,127.1 L439.7,125.9 L435.7,124.9 L431.6,123.8 L427.5,122.9 L423.4,122.0 L419.4,121.2 L415.3,120.5 L411.2,119.9 L407.2,119.4 L403.1,119.0 L399.0,118.9 L394.9,118.8 L390.9,118.9 L386.8,119.1 L382.7,119.4 L378.6,119.8 L374.6,120.3 L370.5,120.8 L366.4,121.2 L362.3,121.6 L358.3,121.9 L354.2,122.1 L350.1,122.2Z" fill="#FDE725" fill-opacity="0.5" shape-rendering="crispEdges"/></g>
<g><path d="M859,1131H906M998,1131H998" class="w"/>
<rect x="906" y="1114" width="92" height="34" class="w"/>
<path d="M952.5,1114V1148" class="m"/>
<path d="M859,962H998M1137,962H1322" class="w"/>
<rect x="998" y="945" width="139" height="34" class="w"/>
<path d="M1045.0,945V979" class="m"/>
<circle cx="1415" cy="962" r="5" class="o" shape-rendering="crispEdges"/>
<circle cx="1507" cy="962" r="5" class="o" shape-rendering="crispEdges"/>
<circle cx="1831" cy="962" r="5" class="o" shape-rendering="crispEdges"/>
<path d="M859,792H998M1137,792H1276" class="w"/>
<rect x="998" y="776" width="139" height="33" class="w"/>
<path d="M1045.0,776V809" class="m"/>
<path d="M767,623H813M906,623H906" class="w"/>
<rect x="813" y="606" width="93" height="34" class="w"/>
<path d="M860.0,606V640" class="m"/>
<circle cx="582" cy="623" r="5" class="o" shape-rendering="crispEdges"/>
<path d="M489,454H536M628,454H721" class="w"/>
<rect x="536" y="437" width="92" height="34" class="w"/>
<path d="M582.4,437V471" class="m"/>
<circle cx="351" cy="454" r="5" class="o" shape-rendering="crispEdges"/>
<circle cx="813" cy="454" r="5" class="o" shape-rendering="crispEdges"/>
<path d="M721,285H929M1206,285H1461" class="w"/>
<rect x="929" y="268" width="277" height="34" class="w"/>
<path d="M998.8,268V302" class="m"/>
<circle cx="1692" cy="285" r="5" class="o" shape-rendering="crispEdges"/>
<circle cx="1831" cy="285" r="5" class="o" shape-rendering="crispEdges"/>
<path d="M443,116H582M674,116H813" class="w"/>
<rect x="582" y="99" width="92" height="34" class="w"/>
<path d="M605.6,99V133" class="m"/>
<circle cx="351" cy="116" r="5" class="o" shape-rendering="crispEdges"/>
<circle cx="859" cy="116" r="5" class="o" shape-rendering="crispEdges"/>
<circle cx="906" cy="116" r="5" class="o" shape-rendering="crispEdges"/>
<circle cx="952" cy="116" r="5" class="o" shape-rendering="crispEdges"/>
<circle cx="998" cy="116" r="5" class="o" shape-rendering="crispEdges"/>
<circle cx="1045" cy="116" r="5" class="o" shape-rendering="crispEdges"/></g>
<g><text transform="translate(263.15,1145.7) scale(0.9818,1)" text-anchor="end" class="t">2seater</text>
<text transform="translate(262.84,976.7) scale(0.9992,1)" text-anchor="end" class="t">compact</text>
<text transform="translate(263.2,806.7) scale(0.9764,1)" text-anchor="end" class="t">midsize</text>
<text transform="translate(263.24,637.7) scale(0.9731,1)" text-anchor="end" class="t">minivan</text>
<text transform="translate(262.93,468.7) scale(1.0051,1)" text-anchor="end" class="t">pickup</text>
<text transform="translate(262.8,299.7) scale(1.0,1)" text-anchor="end" class="t">subcompact</text>
<text transform="translate(263.06,130.7) scale(0.9735,1)" text-anchor="end" class="t">suv</text>
<text x="720.6" y="1275.2" text-anchor="middle" class="t" style="font-size:38px">20</text>
<text x="1183.2" y="1275.2" text-anchor="middle" class="t" style="font-size:38px">30</text>
<text x="1645.8" y="1275.2" text-anchor="middle" class="t" style="font-size:38px">40</text>
<text transform="translate(1091.1,1321) scale(0.96,1)" text-anchor="middle" class="tt" style="font-size:43.2px">hwy</text>
<text transform="translate(47.4,623.1) rotate(-90)" text-anchor="middle" class="tt" style="font-size:43.2px">class</text></g>
</svg>
</body></html>
